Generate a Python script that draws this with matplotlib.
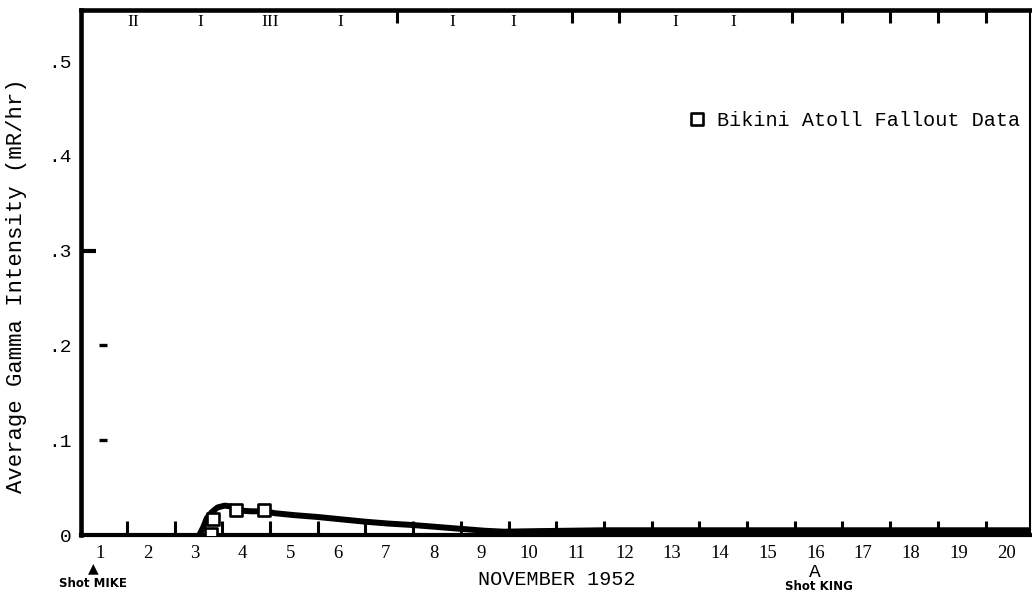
import matplotlib
matplotlib.use("Agg")
import matplotlib.pyplot as plt
from matplotlib.markers import MarkerStyle
from matplotlib.transforms import blended_transform_factory

MONO = "Liberation Mono"
SERIF = "Liberation Serif"

# Day of November 1952 (day d begins at x = d)
days = list(range(1, 21))
day_ticks = list(range(2, 21))

# Smoothed intensity curve (mR/hr)
curve_day = [3.52, 3.60, 3.68, 3.78, 3.90, 4.05, 4.20, 4.30, 4.60, 4.90, 5.10,
             5.50, 6.00, 6.50, 7.00, 7.50, 8.00, 8.50, 9.00, 9.50, 9.90, 10.5,
             12.0, 14.0, 16.0, 18.0, 20.0, 21.0]
curve_mr = [0.000, 0.008, 0.018, 0.024, 0.029, 0.031, 0.030, 0.026, 0.025, 0.025,
            0.023, 0.021, 0.019, 0.0165, 0.014, 0.012, 0.0105, 0.0085, 0.0065,
            0.0045, 0.0035, 0.004, 0.005, 0.005, 0.005, 0.005, 0.005, 0.005]

# Bikini Atoll fallout observations
obs_day = [3.77, 3.80, 4.29, 4.88]
obs_mr = [0.001, 0.017, 0.026, 0.026]

# Marks typed along the top border
top_glyph_day = [2.13, 3.53, 5.00, 6.47, 8.83, 10.09, 13.49, 14.71]
top_glyphs = ["II", "I", "III", "I", "I", "I", "I", "I"]
top_tick_day = [7.66, 11.33, 12.31, 15.95, 17.0, 18.0, 19.0, 20.0]

# Short marks near the left axis
dash_mr = [0.1, 0.2]
stub_mr = 0.3

y_ticks = [0, 0.1, 0.2, 0.3, 0.4, 0.5]
y_labels = ["0", ".1", ".2", ".3", ".4", ".5"]

fig = plt.figure(figsize=(10.32, 6.0), dpi=100)
ax = fig.add_axes([81 / 1032, 65 / 600, (1030 - 81) / 1032, 525 / 600])
ax.set_xlim(1.04, 20.93)
ax.set_ylim(0, 525 / 948)

for side, lw in (("left", 3.3), ("top", 3.3), ("bottom", 3.0), ("right", 1.5)):
    ax.spines[side].set_linewidth(lw)
    ax.spines[side].set_color("black")

# curve and observations
ax.plot(curve_day, curve_mr, color="black", lw=4.3, solid_capstyle="round",
        solid_joinstyle="round", zorder=3)
sq = MarkerStyle("s", joinstyle="round")
ax.plot(obs_day, obs_mr, linestyle="none", marker=sq, markersize=8.3,
        markerfacecolor="white", markeredgecolor="black", markeredgewidth=1.9,
        zorder=4, label="Bikini Atoll Fallout Data")

# x axis: day boundaries as inward ticks, day numbers between them
ax.set_xticks(day_ticks)
ax.set_xticklabels([])
ax.tick_params(axis="x", which="major", direction="in", length=10, width=2.2,
               top=False, bottom=True)
ax.set_xticks([d + 0.43 for d in days], minor=True)
ax.set_xticklabels([str(d) for d in days], minor=True, fontfamily=SERIF,
                   fontsize=13.5)
ax.tick_params(axis="x", which="minor", length=0, pad=7)

# y axis
ax.set_yticks(y_ticks)
ax.set_yticklabels(y_labels, fontfamily=MONO, fontsize=14)
ax.tick_params(axis="y", length=0, pad=7)
ax.set_ylabel("Average Gamma Intensity (mR/hr)", fontfamily=MONO, fontsize=16)
ax.yaxis.set_label_coords(-0.057, 0.474)

# marks near the left axis
ax.plot([1.50] * len(dash_mr), dash_mr, linestyle="none", marker="_",
        markersize=5.5, markeredgewidth=2.4, color="black")
ax.plot([1.04, 1.36], [stub_mr, stub_mr], color="black", lw=3.0,
        solid_capstyle="butt")

# marks along the top border
tr = blended_transform_factory(ax.transData, ax.transAxes)
for d, g in zip(top_glyph_day, top_glyphs):
    ax.text(d, 0.977, g, transform=tr, ha="center", va="center",
            fontfamily=SERIF, fontsize=12.5)
for d in top_tick_day:
    ax.plot([d, d], [1.0, 0.975], transform=tr, color="black", lw=2.2,
            solid_capstyle="butt", clip_on=False)

# legend
ax.legend(loc="center left", bbox_to_anchor=(0.6386, 0.790), frameon=False,
          borderaxespad=0, borderpad=0, handlelength=1.0, handletextpad=0.5,
          prop={"family": MONO, "size": 14.5})

# annotations beneath the axis
ax.text(1.30, -0.063, "\u25B2", transform=tr, ha="center", va="center",
        fontsize=10, fontfamily="DejaVu Sans")
ax.text(1.29, -0.0933, "Shot MIKE", transform=tr, ha="center", va="center",
        fontsize=8.5, fontweight="bold", fontfamily="DejaVu Sans")
ax.text(11.01, -0.0857, "NOVEMBER 1952", transform=tr, ha="center",
        va="center", fontsize=14.5, fontfamily=MONO)
ax.text(16.42, -0.0705, "A", transform=tr, ha="center", va="center",
        fontsize=14, fontfamily=MONO)
ax.text(16.50, -0.099, "Shot KING", transform=tr, ha="center", va="center",
        fontsize=8.5, fontweight="bold", fontfamily="DejaVu Sans")

fig.savefig("out.png", dpi=100)
